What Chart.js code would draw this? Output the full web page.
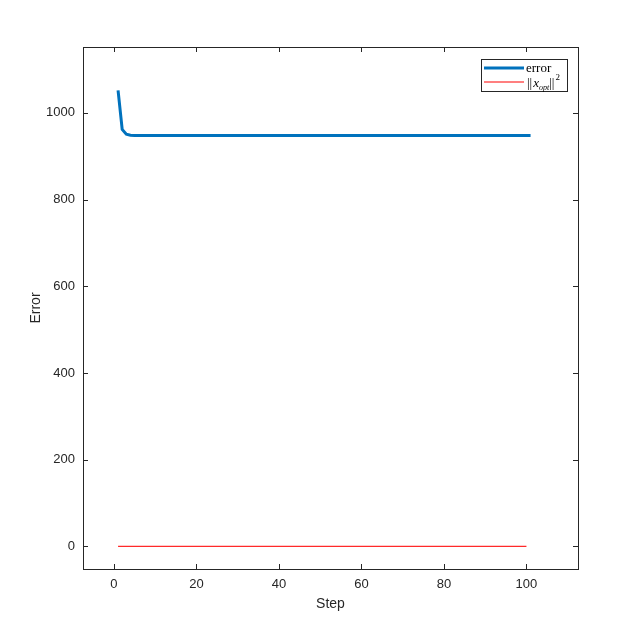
<!DOCTYPE html>
<html>
<head>
<meta charset="utf-8">
<script src="https://cdn.jsdelivr.net/npm/chart.js@4"></script>
<style>
  html, body { margin: 0; padding: 0; background: #fff; }
  #wrap { width: 640px; height: 640px; }
</style>
</head>
<body>
<div id="wrap"><canvas id="myChart" width="640" height="640"></canvas></div>
<script>
// data
var steps = [1, 2, 3, 4, 5, 6, 7, 8, 9, 10, 11, 12, 13, 14, 15, 16, 17, 18, 19, 20,
    21, 22, 23, 24, 25, 26, 27, 28, 29, 30, 31, 32, 33, 34, 35, 36, 37, 38, 39, 40,
    41, 42, 43, 44, 45, 46, 47, 48, 49, 50, 51, 52, 53, 54, 55, 56, 57, 58, 59, 60,
    61, 62, 63, 64, 65, 66, 67, 68, 69, 70, 71, 72, 73, 74, 75, 76, 77, 78, 79, 80,
    81, 82, 83, 84, 85, 86, 87, 88, 89, 90, 91, 92, 93, 94, 95, 96, 97, 98, 99, 100, 101];
var errorValues = [1052, 962, 951, 948.5, 948, 948, 948, 948, 948, 948,
    948, 948, 948, 948, 948, 948, 948, 948, 948, 948,
    948, 948, 948, 948, 948, 948, 948, 948, 948, 948,
    948, 948, 948, 948, 948, 948, 948, 948, 948, 948,
    948, 948, 948, 948, 948, 948, 948, 948, 948, 948,
    948, 948, 948, 948, 948, 948, 948, 948, 948, 948,
    948, 948, 948, 948, 948, 948, 948, 948, 948, 948,
    948, 948, 948, 948, 948, 948, 948, 948, 948, 948,
    948, 948, 948, 948, 948, 948, 948, 948, 948, 948,
    948, 948, 948, 948, 948, 948, 948, 948, 948, 948, 948];
var xoptSteps = [1, 100];
var xoptValues = [0, 0];
var xTicks = [0, 20, 40, 60, 80, 100];
var yTicks = [0, 200, 400, 600, 800, 1000];

var axisColor = '#262626';
var sans = 'Arial, "Liberation Sans", sans-serif';
var serif = '"Liberation Serif", "DejaVu Serif", serif';

// MATLAB style box + inward ticks on all four sides
var boxPlugin = {
    id: 'box',
    afterDraw: function (chart) {
        var c = chart.ctx, a = chart.chartArea;
        var xs = chart.scales.x, ys = chart.scales.y;
        c.save();
        c.strokeStyle = axisColor;
        c.lineWidth = 1;
        c.strokeRect(Math.round(a.left) + 0.5, Math.round(a.top) + 0.5,
            Math.round(a.right - a.left), Math.round(a.bottom - a.top));
        c.beginPath();
        xTicks.forEach(function (v) {
            var px = Math.round(xs.getPixelForValue(v)) + 0.5;
            c.moveTo(px, a.bottom); c.lineTo(px, a.bottom - 5);
            c.moveTo(px, a.top); c.lineTo(px, a.top + 5);
        });
        yTicks.forEach(function (v) {
            var py = Math.round(ys.getPixelForValue(v)) + 0.5;
            c.moveTo(a.left, py); c.lineTo(a.left + 5, py);
            c.moveTo(a.right, py); c.lineTo(a.right - 5, py);
        });
        c.stroke();

        // legend
        var lx = 481.5, ly = 59.5, lw = 86, lh = 32;
        c.fillStyle = '#fff';
        c.fillRect(lx, ly, lw, lh);
        c.strokeStyle = axisColor;
        c.strokeRect(lx, ly, lw, lh);
        c.lineWidth = 3;
        c.strokeStyle = '#0072BD';
        c.beginPath(); c.moveTo(484, 68); c.lineTo(524, 68); c.stroke();
        c.lineWidth = 1.2;
        c.strokeStyle = '#ff0000';
        c.beginPath(); c.moveTo(484, 82); c.lineTo(524, 82); c.stroke();
        c.fillStyle = '#000';
        c.textBaseline = 'alphabetic';
        c.font = '13px ' + serif;
        c.fillText('error', 526, 72);
        var x = 527;
        c.font = '13px ' + serif;
        c.fillText('||', x, 87); x += c.measureText('||').width + 1;
        c.font = 'italic 13px ' + serif;
        c.fillText('x', x, 87); x += c.measureText('x').width;
        c.font = 'italic 8px ' + serif;
        c.fillText('opt', x, 90); x += c.measureText('opt').width;
        c.font = '13px ' + serif;
        c.fillText('||', x, 87); x += c.measureText('||').width;
        c.font = '9px ' + serif;
        c.fillText('2', x + 1, 80);
        c.restore();
    }
};

var ctx = document.getElementById('myChart').getContext('2d');
var myChart = new Chart(ctx, {
    type: 'line',
    data: {
        datasets: [{
            label: 'error',
            data: steps.map(function (s, i) { return { x: s, y: errorValues[i] }; }),
            borderColor: '#0072BD',
            borderWidth: 3,
            pointRadius: 0,
            tension: 0
        }, {
            label: '||x_opt||^2',
            data: xoptSteps.map(function (s, i) { return { x: s, y: xoptValues[i] }; }),
            borderColor: '#ff2a2a',
            borderWidth: 1.3,
            pointRadius: 0,
            tension: 0
        }]
    },
    options: {
        responsive: false,
        animation: false,
        layout: { padding: { top: 47, right: 62, left: 0, bottom: 0 } },
        plugins: {
            legend: { display: false },
            tooltip: { enabled: false }
        },
        scales: {
            x: {
                type: 'linear',
                min: -7.5,
                max: 112.5,
                afterBuildTicks: function (scale) {
                    scale.ticks = xTicks.map(function (v) { return { value: v }; });
                },
                afterFit: function (scale) { scale.height = 71; },
                grid: { display: false, drawTicks: false },
                border: { display: false },
                ticks: {
                    color: axisColor,
                    padding: 8,
                    maxRotation: 0,
                    callback: function (v) { return String(v); },
                    font: { family: sans, size: 13 }
                },
                title: {
                    display: true,
                    text: 'Step',
                    color: axisColor,
                    padding: { top: 0, bottom: 27 },
                    font: { family: sans, size: 14 }
                }
            },
            y: {
                type: 'linear',
                min: -52,
                max: 1152,
                afterBuildTicks: function (scale) {
                    scale.ticks = yTicks.map(function (v) { return { value: v }; });
                },
                afterFit: function (scale) { scale.width = 83; },
                grid: { display: false, drawTicks: false },
                border: { display: false },
                ticks: {
                    color: axisColor,
                    padding: 8,
                    callback: function (v) { return String(v); },
                    font: { family: sans, size: 13 }
                },
                title: {
                    display: true,
                    text: 'Error',
                    color: axisColor,
                    padding: { top: 28, bottom: 0 },
                    font: { family: sans, size: 14 }
                }
            }
        }
    },
    plugins: [boxPlugin]
});
</script>
</body>
</html>
